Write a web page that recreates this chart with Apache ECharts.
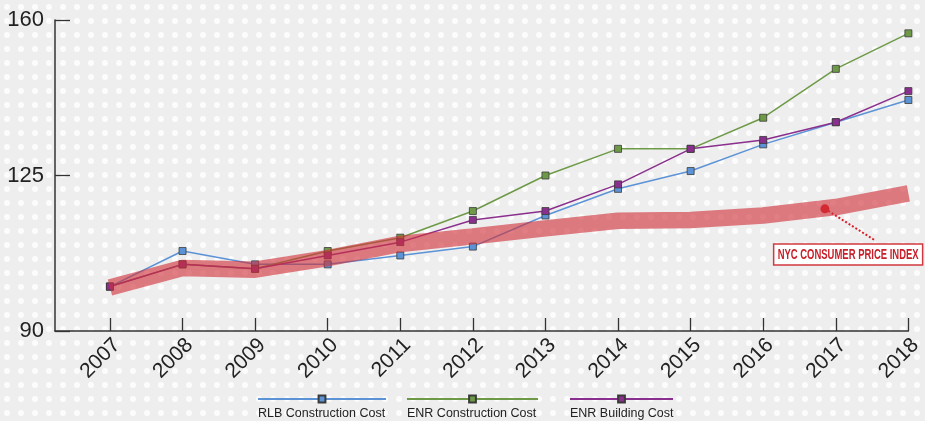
<!DOCTYPE html>
<html><head><meta charset="utf-8">
<script src="https://cdn.jsdelivr.net/npm/echarts@6/dist/echarts.min.js"></script>
<style>html,body{margin:0;padding:0;background:#efefef}#c{width:925px;height:421px}</style>
</head><body><div id="c"></div>
<script>
// ---- data ----
const years = [2007, 2008, 2009, 2010, 2011, 2012, 2013, 2014, 2015, 2016, 2017, 2018];
const rlbConstruction = [100, 108, 105, 105, 107, 109, 116, 122, 126, 132, 137, 142];
const enrConstruction = [100, 105, 104, 108, 111, 117, 125, 131, 131, 138, 149, 157];
const enrBuilding = [100, 105, 104, 107, 110, 115, 117, 123, 131, 133, 137, 144];
const nycCpi = [99.8, 104.2, 103.8, 106.4, 109.6, 111.3, 113.1, 114.8, 115.0, 116.0, 117.9, 121.0];
const yTicks = [90, 125, 160];
const seriesNames = ['RLB Construction Cost', 'ENR Construction Cost', 'ENR Building Cost'];
const cpiLabel = 'NYC CONSUMER PRICE INDEX';
const cpiDot = [2016.85, 117.5];
const cpiConnectorEnd = [2017.55, 110.3];
const cpiLabelAt = [2017.17, 107.2];

// ---- style ----
const FONT = "'Liberation Sans', Arial, sans-serif";
const colors = ['#5b93d6', '#6e9a48', '#8b2f8e'];
const values = [rlbConstruction, enrConstruction, enrBuilding];

function dotPattern() {
  const c = document.createElement('canvas');
  c.width = 14; c.height = 14;
  const g = c.getContext('2d');
  g.fillStyle = '#eeeeee'; g.fillRect(0, 0, 14, 14);
  g.fillStyle = 'rgba(255,255,255,0.8)';
  g.beginPath(); g.arc(7, 7, 3, 0, Math.PI * 2); g.fill();
  return c;
}

const pairs = arr => years.map((y, i) => [y, arr[i]]);

const lineSeries = seriesNames.map((name, i) => ({
  name, type: 'line', data: pairs(values[i]),
  symbol: 'rect', symbolSize: 7,
  itemStyle: { color: colors[i], borderColor: '#3a3a3a', borderWidth: 0.8 },
  lineStyle: { color: colors[i], width: 1.5 },
  z: 3 + i
}));

const legendStarts = [257, 406, 569];
const legendWidths = [128, 131, 103];
const LEG_LH = 30;
const legends = seriesNames.map((name, i) => ({
  data: [name], left: legendStarts[i], top: 399 - LEG_LH, padding: 0,
  itemWidth: legendWidths[i], itemHeight: 8.5, selectedMode: false,
  formatter: n => '\n' + n,
  textStyle: { fontFamily: FONT, fontSize: 12.5, color: '#222', lineHeight: LEG_LH,
    padding: [0, 0, 0, -(legendWidths[i] + 5)] }
}));

const chart = echarts.init(document.getElementById('c'));
chart.setOption({
  animation: false,
  backgroundColor: { image: dotPattern(), repeat: 'repeat' },
  grid: { left: 55, right: 16, top: 20, bottom: 90 },
  legend: legends,
  xAxis: {
    type: 'value', min: 2006.243, max: 2018,
    splitLine: { show: false },
    axisLine: { show: true, lineStyle: { color: '#333', width: 1.5 } },
    axisTick: { show: true, inside: true, length: 13, customValues: years, lineStyle: { color: '#333', width: 1.3 } },
    axisLabel: {
      customValues: years, rotate: 45, margin: 18, formatter: v => String(v),
      fontFamily: FONT, fontSize: 21, color: '#222', padding: [0, -10, 0, 0]
    }
  },
  yAxis: {
    type: 'value', min: 90, max: 160, interval: 35,
    splitLine: { show: false },
    axisLine: { show: true, lineStyle: { color: '#333', width: 1.5 } },
    axisTick: { show: true, inside: true, length: 15, lineStyle: { color: '#333', width: 1.3 } },
    axisLabel: { margin: 11, fontFamily: FONT, fontSize: 22, color: '#222', customValues: yTicks }
  },
  series: [
    ...lineSeries,
    {
      name: cpiLabel, type: 'line', data: pairs(nycCpi), symbol: 'none', z: 10,
      lineStyle: { color: 'rgba(206,48,56,0.62)', width: 16.5, cap: 'butt' },
      markPoint: {
        symbol: 'circle', animation: false,
        data: [
          { coord: cpiDot, symbolSize: 9, itemStyle: { color: '#d81e2a' }, label: { show: false } }
        ]
      },
      markLine: {
        symbol: 'none', silent: true, animation: false,
        lineStyle: { color: '#d81e2a', type: 'dotted', width: 2 },
        label: { show: false },
        data: [[{ coord: cpiDot }, { coord: cpiConnectorEnd }]]
      }
    }
  ]
});

// annotation label box, anchored at data coordinates
const anchor = chart.convertToPixel({ xAxisIndex: 0, yAxisIndex: 0 }, cpiLabelAt);
const labelFont = "bold 15px 'Liberation Sans', Arial, sans-serif";
const mctx = document.createElement('canvas').getContext('2d');
mctx.font = labelFont;
const labelScale = 141 / mctx.measureText(cpiLabel).width;
chart.setOption({
  graphic: [{
    type: 'group', x: anchor[0], y: anchor[1], z: 100,
    children: [
      { type: 'rect', shape: { x: -74.5, y: -10.5, width: 149, height: 21 },
        style: { fill: '#ffffff', stroke: '#d0393f', lineWidth: 1.5 } },
      { type: 'text', x: 0, y: 0.5, scaleX: labelScale,
        style: { text: cpiLabel, x: 0, y: 0, align: 'center', verticalAlign: 'middle',
          font: labelFont, fill: '#c8202a' } }
    ]
  }]
});
</script></body></html>
